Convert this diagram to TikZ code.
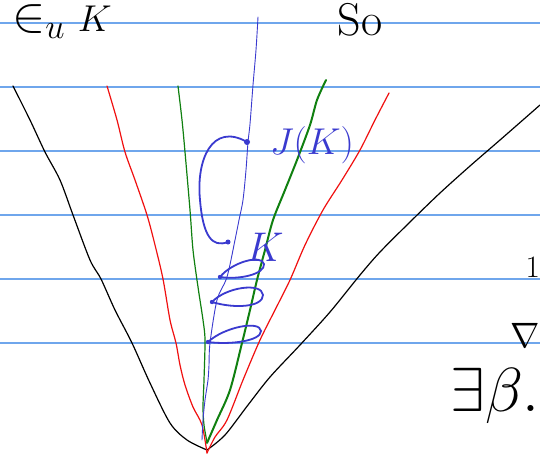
\documentclass[tikz,border=0pt]{standalone}
\usepackage{amsmath}
\usepackage{amssymb}
\usepackage{graphicx}
\usepackage{tikz}
\usetikzlibrary{arrows.meta,positioning,calc}
\definecolor{ruleblue}{HTML}{6FA6EC}
\definecolor{penblue}{HTML}{3A3ACF}
\definecolor{pengreen}{HTML}{108010}
\definecolor{penred}{HTML}{F01010}
\newcommand{\penmath}[2]{\scalebox{#1}{$#2$}}
\tikzset{
  % Base style
  sketch base/.style={x=1pt, y=-1pt, line cap=round, line join=round},
  % Paper rules
  rule line/.style={ruleblue, line width=1.3pt},
  % Pen strokes
  black pen/.style={black, line width=1.2pt},
  red pen/.style={penred, line width=1.2pt},
  green pen/.style={pengreen, line width=1.2pt},
  green thick/.style={pengreen, line width=2pt},
  blue pen/.style={penblue, line width=0.9pt},
  blue thick/.style={penblue, line width=1.8pt},
  % Handwritten labels
  note label/.style={font=\fontsize{20}{20}\selectfont, inner sep=0pt},
  pen dot/.style={penblue},
}

\begin{document}
\begin{tikzpicture}[sketch base]
  \useasboundingbox (0,0) rectangle (540,461);
  \clip (0,0) rectangle (540,461);
  \fill[white] (0,0) rectangle (540,461);
  % ruled lines
  \foreach \y in {23,87,151,215,279,343}
    \draw[rule line] (0,\y) -- (540,\y);
  % outer cone
  \draw[black pen] plot[smooth] coordinates {(13,86) (30,120) (45,152) (60,180) (73,215) (90,260) (101,279) (115,310) (132,343) (150,383) (170,423) (187,440) (207,450)};
  \draw[black pen] plot[smooth] coordinates {(207,450) (225,435) (248,405) (270,377) (300,345) (330,312) (360,275) (380,252) (410,222) (440,193) (470,166) (500,140) (540,105)};
  % middle cone
  \draw[red pen] plot[smooth] coordinates {(107,86) (117,120) (125,152) (135,180) (147,215) (155,245) (163,279) (170,320) (176,343) (180,365) (185,385) (193,407) (202,425) (207,453)};
  \draw[red pen] plot[smooth] coordinates {(207,453) (215,437) (227,420) (243,380) (260,340) (275,310) (290,280) (305,245) (323,210) (342,180) (360,150) (375,120) (389,93)};
  % inner cone
  \draw[green pen] plot[smooth] coordinates {(178,86) (182,120) (185,152) (190,210) (193,250) (198,287) (203,320) (205,340) (204,380) (203,407) (204,425) (207,442)};
  \draw[green thick] plot[smooth] coordinates {(207,443) (217,420) (230,390) (242,343) (250,310) (257,280) (265,250) (273,220) (285,190) (297,160) (310,125) (317,100) (326,80)};
  % blue path
  \draw[blue pen] plot[smooth] coordinates {(258,17) (256,50) (253,85) (250,124) (248,142) (246,170) (243,200) (239,220) (235,240) (227,277) (217,300) (210,343) (209,365) (208,380) (205,400) (203,420) (202,440)};
  \coordinate (jk dot) at (247,142);
  \coordinate (k dot) at (228,242);
  \fill[pen dot] (jk dot) circle (3);
  \fill[pen dot] (k dot) circle (2.5);
  \draw[blue thick] (jk dot) .. controls (212,122) and (196,160) .. (200,200) .. controls (203,236) and (212,248) .. (k dot);
  % loops
  \draw[blue thick] (220,277) .. controls (232,262) and (262,254) .. (264,264) .. controls (265,274) and (240,280) .. (220,277);
  \draw[blue thick] (212,302) .. controls (226,287) and (262,282) .. (263,295) .. controls (263,307) and (235,309) .. (212,302);
  \draw[blue thick] (208,342) .. controls (224,327) and (260,320) .. (261,331) .. controls (261,341) and (230,345) .. (208,342);
  \fill[pen dot] (220,277) circle (2.2);
  \fill[pen dot] (212,302) circle (2.2);
  \fill[pen dot] (208,342) circle (2.2);
  % labels
  \node[note label, penblue] (jk label) at (312,145) {\penmath{1.8}{J(K)}};
  \node[note label, penblue] (k label) at (265,247) {\penmath{2}{K}};
  \node[note label, anchor=north west] (top left) at (12,4) {\penmath{2.4}{\in_u}\hspace{12pt}\penmath{1.8}{K}};
  \node[note label, anchor=north] (so label) at (360,3) {\scalebox{2.3}{So}};
  \node[note label, anchor=east] (one label) at (540,267) {\penmath{1.5}{1}};
  \node[note label, anchor=east] (nabla label) at (540,335) {\penmath{1.7}{\nabla}};
  \node[note label, anchor=east] (exists label) at (540,396) {\penmath{3}{\exists\beta.}};
\end{tikzpicture}
\end{document}
